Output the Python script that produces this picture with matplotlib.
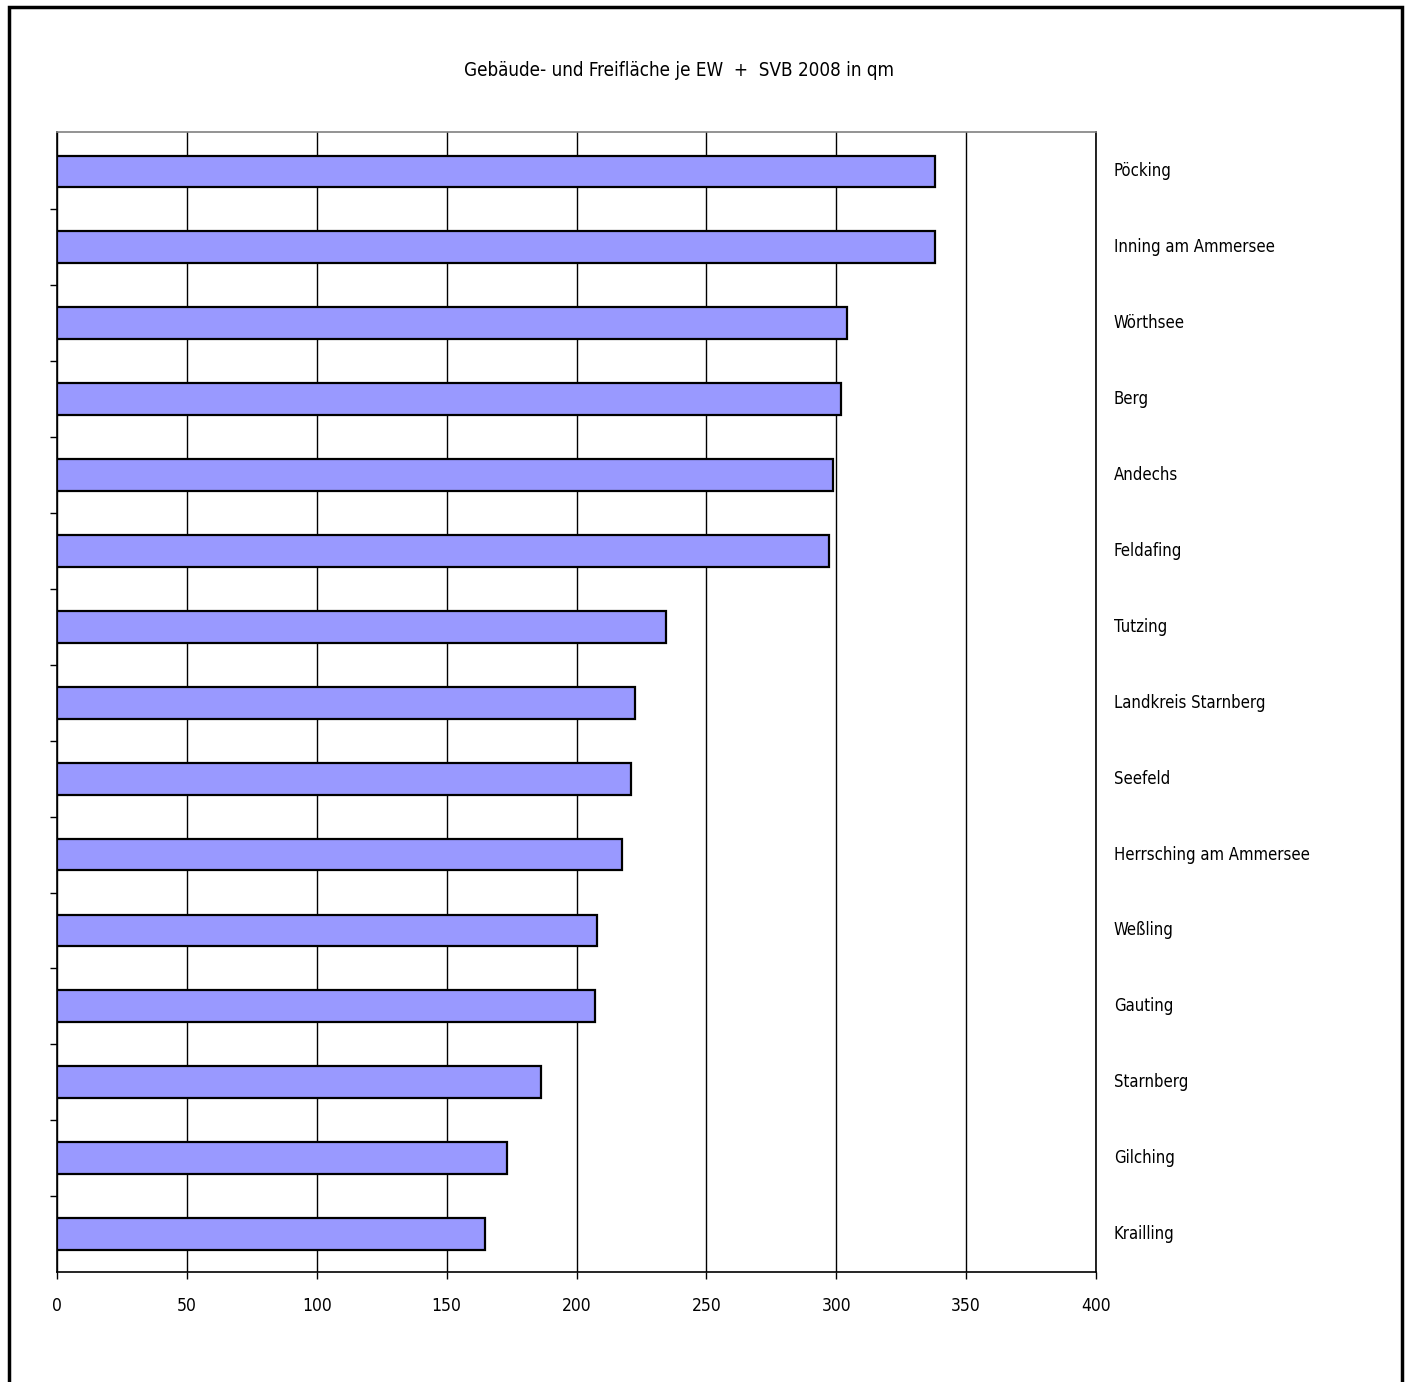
import matplotlib.pyplot as plt
from matplotlib.patches import Rectangle

plt.rcParams['font.family'] = ['DejaVu Sans']
plt.rcParams['font.stretch'] = 'condensed'

gemeinden = ["Pöcking", "Inning am Ammersee", "Wörthsee", "Berg", "Andechs",
             "Feldafing", "Tutzing", "Landkreis Starnberg", "Seefeld",
             "Herrsching am Ammersee", "Weßling", "Gauting", "Starnberg",
             "Gilching", "Krailling"]
flaeche = [338.0, 338.0, 304.0, 301.7, 298.7, 297.3, 234.5, 222.6, 221.1,
           217.4, 207.9, 207.1, 186.3, 173.1, 164.9]
xticks = [0, 50, 100, 150, 200, 250, 300, 350, 400]
titel = "Gebäude- und Freifläche je EW  +  SVB 2008 in qm"

W, H = 1408, 1382
fig = plt.figure(figsize=(W / 100, H / 100), dpi=100)
ax = fig.add_axes([57 / W, 1 - 1272 / H, (1096 - 57) / W, (1272 - 132) / H])

pos = list(range(len(gemeinden)))
ax.barh(pos, flaeche, height=0.42, color="#9999ff", edgecolor="black",
        linewidth=1.6, zorder=3)

ax.set_xlim(0, 400)
ax.set_ylim(len(gemeinden) - 0.5, -0.52)
ax.set_xticks(xticks)
ax.set_xticklabels([str(t) for t in xticks], fontsize=12.5)
ax.tick_params(axis="x", length=5, width=1, pad=13, direction="out")

# y ticks at category boundaries, labels on the right
ax.set_yticks([p + 0.5 for p in pos[:-1]])
ax.set_yticklabels([])
ax.tick_params(axis="y", length=5, width=1, direction="out")
for p, name in zip(pos, gemeinden):
    ax.text(1.017, p, name, transform=ax.get_yaxis_transform(),
            ha="left", va="center", fontsize=12)

ax.grid(axis="x", color="black", linewidth=1, zorder=0)
ax.set_axisbelow(True)
for side in ["left", "bottom", "right"]:
    ax.spines[side].set_color("black")
    ax.spines[side].set_linewidth(1.2)
ax.spines["top"].set_color("#808080")
ax.spines["top"].set_linewidth(1.2)

fig.text(679 / W, 1 - 70 / H, titel, ha="center", va="center", fontsize=13.5)

fig.patches.append(Rectangle((8.5 / W, -0.01), (1401.5 - 8.5) / W, 1 - 6.5 / H + 0.01,
                             transform=fig.transFigure, fill=False,
                             edgecolor="black", linewidth=2.5))

fig.savefig("out.png", dpi=100)
